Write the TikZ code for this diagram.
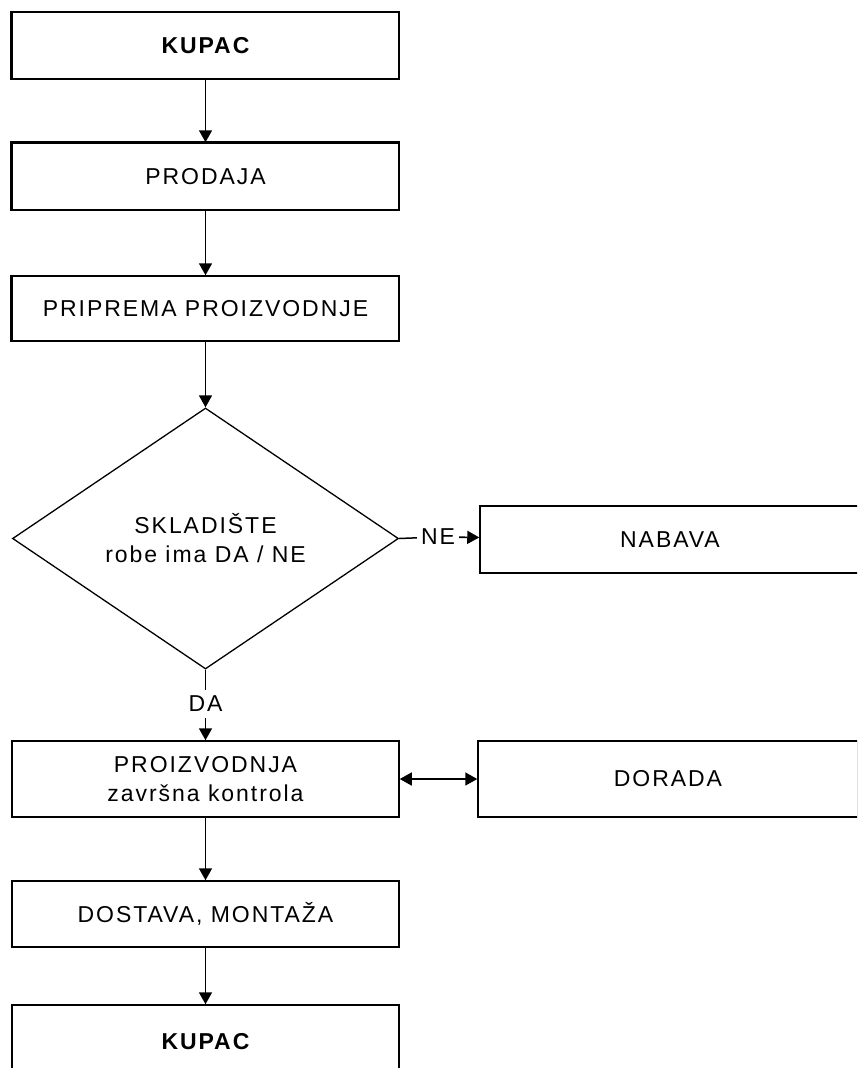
\documentclass[tikz,border=0pt]{standalone}
\usepackage{fontspec}
\setmainfont{Liberation Sans}[LetterSpace=8.5]
\usetikzlibrary{shapes.geometric,arrows.meta}
\begin{document}
\begin{tikzpicture}[x=1pt,y=-1pt,
  txt/.style={font=\fontsize{23}{29}\selectfont},
  box/.style={txt, draw, line width=1.5pt, minimum width=387pt, inner sep=0pt, align=center},
  sidebox/.style={box, minimum width=380pt},
  decision/.style={txt, draw, diamond, line width=1.3pt, minimum width=386pt, minimum height=261pt, inner sep=0pt, align=center},
  lbl/.style={txt, inner sep=0pt},
  conn/.style={line width=1.6pt, -{Triangle[width=13pt,length=12pt]}},
  dconn/.style={line width=1.6pt, {Triangle[width=13pt,length=12pt]}-{Triangle[width=13pt,length=12pt]}},
  plain/.style={line width=1.5pt},
  thickedge/.style={line width=3pt}
]
\clip (0,0) rectangle (857,1068);
\fill[white] (0,0) rectangle (857,1068);

\node[box, minimum height=67pt, font=\fontsize{23}{29}\selectfont\bfseries] (k1) at (205.5,45.5) {KUPAC};
\node[box, minimum height=67pt] (prod) at (205.5,176.5) {PRODAJA};
\node[box, minimum height=65pt] (prip) at (205.5,308.5) {PRIPREMA PROIZVODNJE};
\node[decision] (dec) at (205.5,538.5) {SKLADIŠTE\\robe ima DA / NE};
\node[sidebox, minimum height=67pt] (nab) at (670,539.5) {NABAVA};
\node[box, minimum height=76pt] (proiz) at (205.5,779) {PROIZVODNJA\\završna kontrola};
\node[sidebox, minimum height=76pt] (dor) at (668,779) {DORADA};
\node[box, minimum height=66pt] (dost) at (205.5,914) {DOSTAVA, MONTAŽA};
\node[box, minimum height=73pt, font=\fontsize{23}{29}\selectfont\bfseries] (k2) at (205.5,1041.5) {KUPAC};

\node[lbl, inner xsep=4pt] (ne) at (438,537) {NE};
\node[lbl, inner ysep=6pt] (da) at (205.5,704) {DA};

\draw[thickedge] (k1.north west) -- (k1.south west);
\draw[thickedge] (prod.south west) -- (prod.north west) -- (prod.north east);
\draw[thickedge] (prip.north west) -- (prip.south west);

\draw[conn] (k1) -- (prod);
\draw[conn] (prod) -- (prip);
\draw[conn] (prip) -- (dec);
\draw[plain] (dec.east) -- (ne);
\draw[conn] (ne) -- (nab);
\draw[plain] (dec.south) -- (da);
\draw[conn] (da) -- (proiz);
\draw[dconn] (proiz) -- (dor);
\draw[conn] (proiz) -- (dost);
\draw[conn] (dost) -- (k2);
\end{tikzpicture}
\end{document}
